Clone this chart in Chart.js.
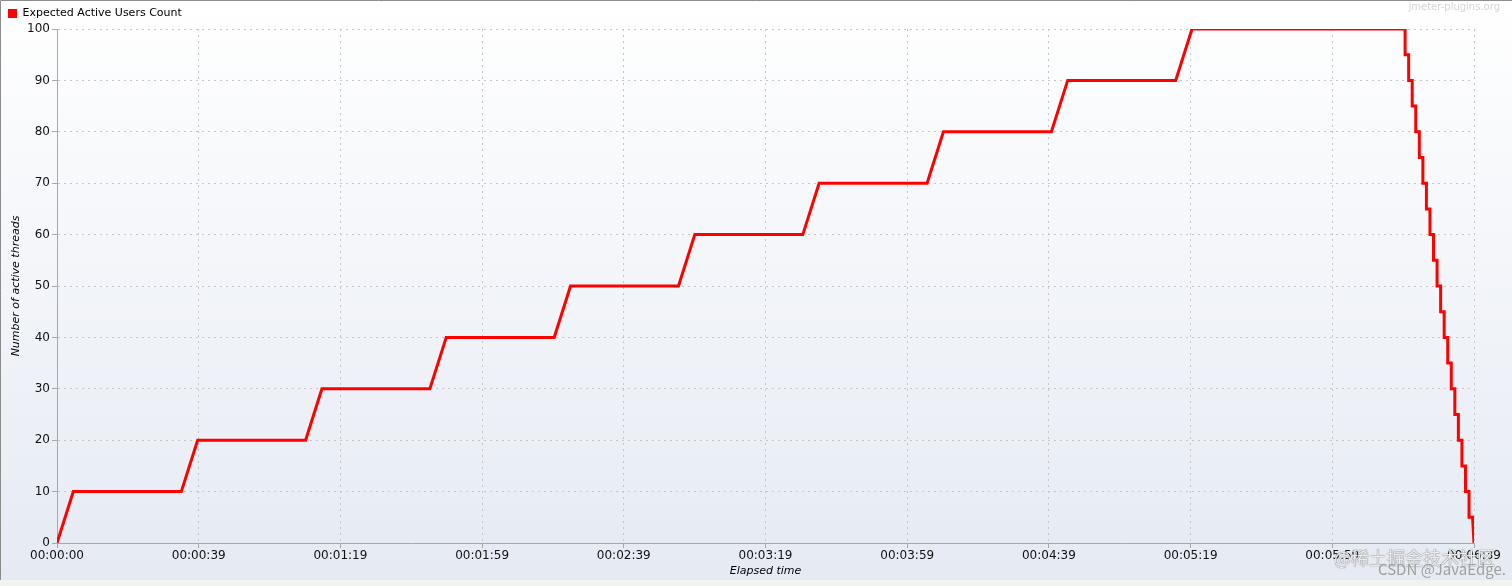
<!DOCTYPE html>
<html>
<head>
<meta charset="utf-8">
<script src="https://cdn.jsdelivr.net/npm/chart.js@4"></script>
<style>
  html, body { margin: 0; padding: 0; background: #f2f2f2; }
  #wrap { position: relative; width: 1512px; height: 586px; }
  canvas { display: block; }
  .wm { position: absolute; white-space: nowrap; font-family: "Noto Sans CJK SC", "DejaVu Sans", sans-serif; line-height: 1; }
  #site { right: 12px; top: 2px; font-size: 10px; color: #d4d4d4; font-family: "DejaVu Sans", sans-serif; }
  #juejin { left: 1334px; top: 548px; font-size: 18px; color: rgba(255,255,255,0.85); text-shadow: 0 0 1px #777, 0 0 1px #777; }
  #csdn { left: 1378px; top: 561px; font-size: 15px; color: #a0a0a0; }
</style>
</head>
<body>
<div id="wrap">
  <canvas id="activeThreadsChart" width="1512" height="586"></canvas>
  <div class="wm" id="site">jmeter-plugins.org</div>
  <div class="wm" id="juejin">@稀土掘金技术社区</div>
  <div class="wm" id="csdn">CSDN @JavaEdge.</div>
</div>
<script>
// elapsed seconds and expected active users
const elapsedSec = [
  0, 4.6, 35, 39.6, 70, 74.6, 105, 109.6, 140, 144.6,
  175, 179.6, 210, 214.6, 245, 249.6, 280, 284.6, 315, 319.6,
  379.6, 379.6, 380.6, 380.6, 381.6, 381.6, 382.6, 382.6, 383.6, 383.6,
  384.6, 384.6, 385.6, 385.6, 386.6, 386.6, 387.6, 387.6, 388.6, 388.6,
  389.6, 389.6, 390.6, 390.6, 391.6, 391.6, 392.6, 392.6, 393.6, 393.6,
  394.6, 394.6, 395.6, 395.6, 396.6, 396.6, 397.6, 397.6, 398.6, 399
];
const activeUsers = [
  0, 10, 10, 20, 20, 30, 30, 40, 40, 50,
  50, 60, 60, 70, 70, 80, 80, 90, 90, 100,
  100, 95, 95, 90, 90, 85, 85, 80, 80, 75,
  75, 70, 70, 65, 65, 60, 60, 55, 55, 50,
  50, 45, 45, 40, 40, 35, 35, 30, 30, 25,
  25, 20, 20, 15, 15, 10, 10, 5, 5, 0
];
const xTickSec = [0, 39.9, 79.8, 119.7, 159.6, 199.5, 239.4, 279.3, 319.2, 359.1, 399];
const xTickLabels = ['00:00:00', '00:00:39', '00:01:19', '00:01:59', '00:02:39', '00:03:19',
                     '00:03:59', '00:04:39', '00:05:19', '00:05:59', '00:06:39'];

const points = elapsedSec.map((t, i) => ({ x: t, y: activeUsers[i] }));

// panel background + frame, like the jmeter-plugins graph
const panelBackground = {
  id: 'panelBackground',
  beforeDraw(chart) {
    const ctx = chart.ctx;
    ctx.save();
    const g = ctx.createLinearGradient(0, 0, 0, 580);
    g.addColorStop(0, '#ffffff');
    g.addColorStop(1, '#e5eaf3');
    ctx.fillStyle = g;
    ctx.fillRect(0, 0, chart.width, 580);
    ctx.fillStyle = '#f2f2f2';
    ctx.fillRect(0, 580, chart.width, chart.height - 580);
    ctx.strokeStyle = '#8c8c8c';
    ctx.lineWidth = 1;
    ctx.beginPath();
    ctx.moveTo(0.5, 580);
    ctx.lineTo(0.5, 0.5);
    ctx.lineTo(chart.width, 0.5);
    ctx.stroke();
    ctx.restore();
  }
};

const tickFont = { family: 'DejaVu Sans', size: 12 };
const titleFont = { family: 'DejaVu Sans', size: 11, style: 'italic' };
const gridOpts = { color: '#c6c6c6', tickLength: 5, tickColor: '#a8a8a8', tickBorderDash: [] };
const borderOpts = { color: '#a8a8a8', width: 1, dash: [2, 4] };

new Chart(document.getElementById('activeThreadsChart'), {
  type: 'line',
  data: {
    datasets: [{
      label: 'Expected Active Users Count',
      data: points,
      borderColor: '#ff0000',
      backgroundColor: '#ff0000',
      borderWidth: 3,
      pointRadius: 0,
      tension: 0,
      fill: false
    }]
  },
  options: {
    responsive: false,
    animation: false,
    layout: { padding: { top: 0, right: 38, bottom: 0, left: 0 } },
    plugins: {
      tooltip: { enabled: false },
      legend: {
        position: 'top',
        align: 'start',
        labels: {
          boxWidth: 9,
          boxHeight: 9,
          padding: 8,
          color: '#000',
          font: { family: 'DejaVu Sans', size: 11 },
          generateLabels: (chart) =>
            Chart.defaults.plugins.legend.labels.generateLabels(chart).map(l => ({ ...l, lineWidth: 0 }))
        }
      }
    },
    scales: {
      x: {
        type: 'linear',
        min: 0,
        max: 399,
        afterBuildTicks: (axis) => { axis.ticks = xTickSec.map(v => ({ value: v })); },
        afterFit: (axis) => { axis.height = 43; },
        ticks: {
          color: '#111',
          font: tickFont,
          padding: 1,
          maxRotation: 0,
          autoSkip: false,
          callback: (v, i) => xTickLabels[i]
        },
        grid: gridOpts,
        border: borderOpts,
        title: { display: true, text: 'Elapsed time', color: '#000', font: titleFont, padding: { top: 0, bottom: 8 } }
      },
      y: {
        min: 0,
        max: 100,
        afterFit: (axis) => { axis.width = 57; },
        ticks: { stepSize: 10, color: '#111', font: tickFont, padding: 2 },
        grid: gridOpts,
        border: borderOpts,
        title: { display: true, text: 'Number of active threads', color: '#000', font: titleFont, padding: { top: 10, bottom: 0 } }
      }
    }
  },
  plugins: [panelBackground]
});
</script>
</body>
</html>
